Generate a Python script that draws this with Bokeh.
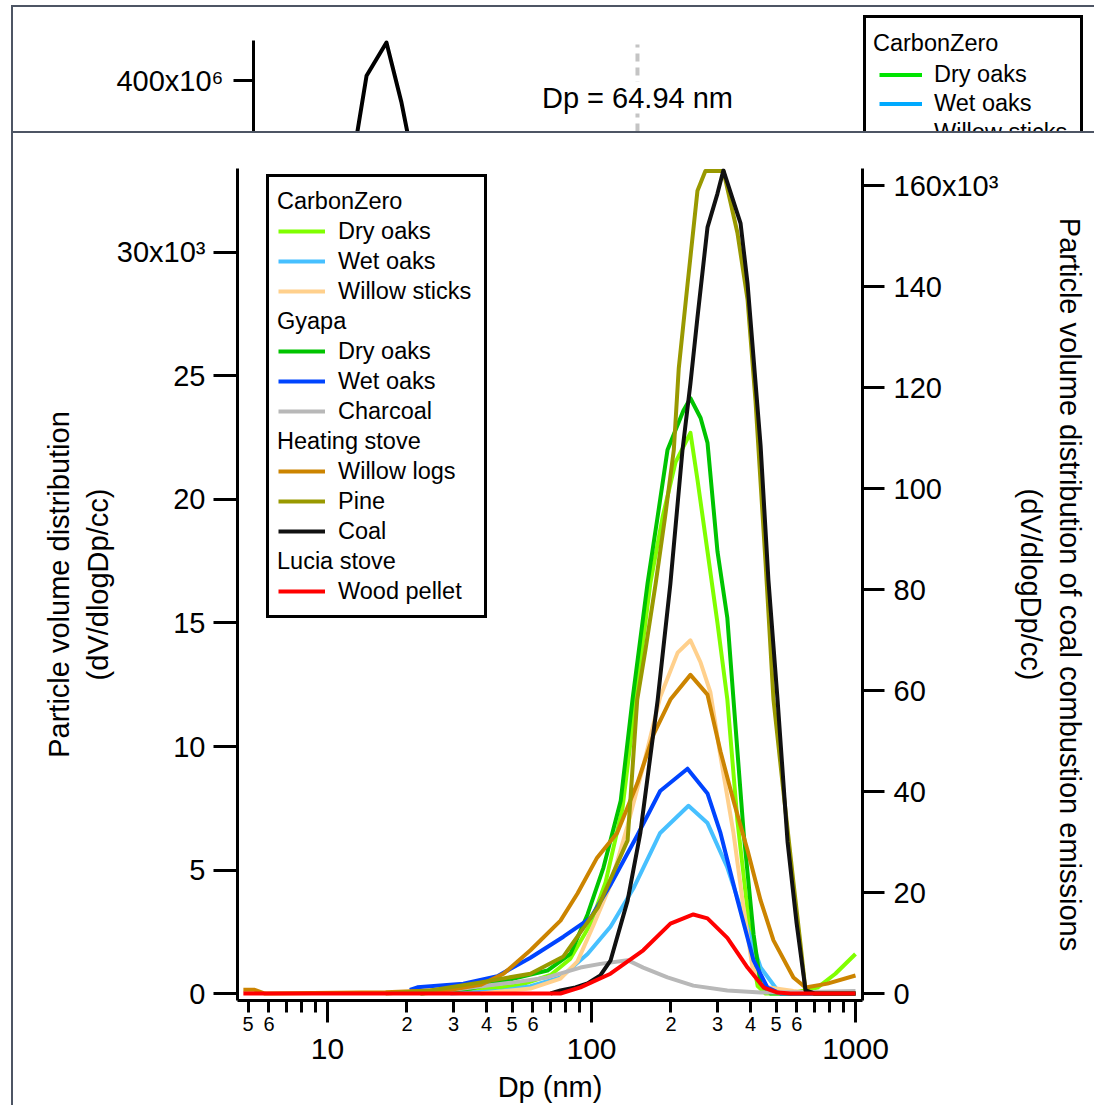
import math
from bokeh.plotting import figure
from bokeh.models import (Range1d, LinearAxis, LogAxis, FixedTicker, Legend,
                          LegendItem, Label)
from bokeh.embed import file_html
from bokeh.resources import INLINE

FONT = "Liberation Sans"

# ---------------- main chart data: Dp (nm) vs dV/dlogDp (/cc) ----------------
cz_dry_oaks_dp = [22.5, 38, 53.8, 70, 83, 99, 113, 131, 147, 167, 186, 208, 237, 252, 275,
                  300, 327, 357, 384, 407, 426, 456, 567, 718, 839, 1000]
cz_dry_oaks_dv = [0, 150, 350, 750, 1400, 2800, 4500, 7500, 11900, 16600, 19300, 21500, 22700,
                  20800, 17900, 15000, 11900, 7000, 4000, 1500, 300, 0, 0, 240, 800, 1600]

cz_wet_oaks_dp = [29.2, 45.2, 58.7, 76.3, 96.6, 118, 144, 182, 233, 275, 327, 377, 437, 507, 567, 1000]
cz_wet_oaks_dv = [0, 100, 300, 650, 1600, 2700, 4250, 6500, 7600, 6900, 5100, 3100, 1060, 120, 0, 0]

cz_willow_sticks_dp = [38, 58.7, 76.3, 88.5, 102, 118, 137, 157, 182, 212, 237, 259, 282, 308,
                       345, 373, 407, 464, 582, 700, 1000]
cz_willow_sticks_dv = [0, 200, 600, 1300, 2800, 4400, 6800, 9200, 12000, 13800, 14300, 13400,
                       12200, 9600, 6500, 3800, 1050, 250, 100, 0, 0]

gy_dry_oaks_dp = [22.5, 34.8, 44, 68.1, 83.2, 96.6, 111, 129, 143, 163, 178, 194, 223, 237, 259,
                  275, 300, 327, 345, 377, 411, 437, 477, 1000]
gy_dry_oaks_dv = [0, 200, 450, 930, 1600, 3200, 5100, 7800, 11900, 16600, 19300, 22000, 23600,
                  24100, 23300, 22300, 17900, 15200, 11900, 6500, 2400, 400, 0, 0]

gy_wet_oaks_dp = [20.5, 21.9, 32.7, 44, 58.7, 78.3, 99, 118, 149, 182, 231, 275, 308, 357, 411,
                  464, 520, 1000]
gy_wet_oaks_dv = [150, 250, 400, 700, 1450, 2300, 3050, 4400, 6400, 8200, 9100, 8100, 6500, 3800,
                  1340, 240, 0, 0]

gy_charcoal_dp = [22.5, 32.7, 50.7, 68, 90.8, 108, 137, 157, 194, 243, 327, 437, 600, 1000]
gy_charcoal_dv = [0, 200, 450, 650, 1050, 1200, 1350, 1050, 650, 320, 120, 40, 50, 100]

hs_willow_logs_dp = [4.8, 5.3, 5.8, 16.6, 29.2, 38, 46.4, 58.7, 76.3, 88.5, 105, 125, 149, 172,
                     199, 237, 275, 308, 345, 390, 437, 489, 582, 647, 783, 1000]
hs_willow_logs_dv = [150, 150, 0, 50, 150, 350, 800, 1750, 2950, 4050, 5500, 6500, 8500, 10500,
                     11900, 12900, 12100, 9800, 7800, 5800, 3770, 2150, 650, 240, 400, 730]

hs_pine_dp = [16.6, 24.5, 38, 58.7, 78.3, 106, 137, 149, 160, 175, 190, 205, 214, 231, 252, 270,
              316, 357, 390, 418, 456, 489, 533, 582, 619, 647, 700, 1000]
hs_pine_dv = [0, 120, 450, 800, 1500, 3500, 6200, 11900, 13900, 16600, 19300, 22000, 25300, 28700,
              32500, 33300, 33300, 30800, 28100, 24000, 17500, 11900, 8200, 4500, 2000, 100, 0, 0]

# coal is read on the right-hand axis
hs_coal_dp = [70, 76.3, 87, 96.6, 108, 118, 137, 153, 178, 199, 221, 237, 252, 275, 300, 316,
              367, 390, 437, 468, 507, 553, 598, 647, 700, 1000]
hs_coal_dv = [0, 600, 1200, 2000, 3600, 6500, 18400, 31700, 58000, 81200, 107500, 120800, 133900,
              151700, 158400, 163000, 152500, 140600, 108500, 81800, 58000, 30000, 14000, 600, 0, 0]

lu_wood_pellet_dp = [4.8, 76.3, 90.8, 118, 157, 199, 243, 275, 327, 390, 449, 507, 567, 1000]
lu_wood_pellet_dv = [0, 0, 250, 800, 1750, 2830, 3200, 3040, 2250, 1050, 240, 40, 0, 0]

left_ticks = [0, 5000, 10000, 15000, 20000, 25000, 30000]
left_tick_labels = ["0", "5", "10", "15", "20", "25", "30x10\u00b3"]
right_ticks = [0, 20000, 40000, 60000, 80000, 100000, 120000, 140000, 160000]
right_tick_labels = ["0", "20", "40", "60", "80", "100", "120", "140", "160x10\u00b3"]
x_minor_ticks = [5, 6, 7, 8, 9, 20, 30, 40, 50, 60, 70, 80, 90,
                 200, 300, 400, 500, 600, 700, 800, 900]
x_minor_labels = ["5", "6", "", "", "", "2", "3", "4", "5", "6", "", "", "",
                  "2", "3", "4", "5", "6", "", "", ""]
x_major_ticks = [10, 100, 1000]
x_major_labels = ["10", "100", "1000"]

# ---------------- background (partly hidden) window data ----------------
bg_dp = [7.3, 8.12, 9.46, 10.6, 11.6]
bg_dn = [200e6, 412e6, 495e6, 347e6, 200e6]
bg_hidden_dn = [0, 0, 0, 0, 0]          # other series of that window lie below the visible strip
bg_marker_dp = 64.94
bg_marker_top = 490e6
bg_ticks = [400e6]
bg_tick_labels = ["400x10\u2076"]

# ---------------- geometry ----------------
W = 1094
TOP_H = 131
MAIN_H = 1105 - TOP_H
M_LEFT, M_RIGHT, M_TOP, M_BOTTOM = 237, 862, 37, 869   # main frame in its canvas
X0, X1 = 4.56, 1063
Y0, Y1 = -283, 33400
R0, R1 = -1386, 163370
T_LEFT, T_RIGHT, T_TOP, T_BOTTOM = 253, 1090, 8, 131     # top frame in its canvas
TX0, TX1 = 3.41, 2101
TY0, TY1 = 272.5e6, 580e6
TY_AXIS_END = 500e6

BORDER = "#4d5564"


def window_css(top_px):
    g = f"linear-gradient({BORDER},{BORDER})"
    return {"vertical-align": "top",
            "background": f"{g} 11px {top_px}px / 100% 2px no-repeat, "
                          f"{g} 11px {top_px}px / 2px 100% no-repeat, #ffffff"}


def style_axis(ax, tick_size="29px"):
    ax.axis_line_color = "black"
    ax.axis_line_width = 3
    ax.major_tick_line_color = "black"
    ax.major_tick_line_width = 3
    ax.minor_tick_line_color = None
    ax.major_tick_in = 0
    ax.major_label_text_font = FONT
    ax.major_label_text_font_size = tick_size
    ax.major_label_text_color = "black"
    ax.axis_label_text_font = FONT
    ax.axis_label_text_font_size = "29px"
    ax.axis_label_text_font_style = "normal"
    ax.axis_label_text_color = "black"


def bare_axis(ax):
    ax.axis_line_color = None
    ax.major_tick_line_color = None
    ax.minor_tick_line_color = None
    ax.major_tick_in = 0
    ax.major_tick_out = 0


def make_legend(items, left, top, pad, row_h, glyph_w, label_w, standoff,
                frame_left, frame_bottom, boxed=True):
    h = 2 * pad + row_h * len(items) + 5
    return Legend(items=items, location=(left - frame_left, frame_bottom - (top + h)),
                  border_line_color="black", border_line_width=3,
                  border_line_alpha=1.0 if boxed else 0.0,
                  background_fill_color="white", background_fill_alpha=1.0 if boxed else 0.0,
                  padding=pad, spacing=0, margin=0,
                  glyph_width=glyph_w, glyph_height=row_h, label_height=row_h,
                  label_width=label_w, label_standoff=standoff, label_text_font=FONT,
                  label_text_font_size="23.5px", label_text_color="black")


# ================= main figure =================
p = figure(width=W, height=MAIN_H, x_axis_type="log",
           x_range=Range1d(X0, X1), y_range=Range1d(Y0, Y1),
           output_backend="svg", toolbar_location=None,
           min_border_left=M_LEFT, min_border_right=W - M_RIGHT,
           min_border_top=M_TOP, min_border_bottom=MAIN_H - M_BOTTOM,
           background_fill_color="white", border_fill_color=None,
           outline_line_color=None, styles=window_css(0))
p.grid.grid_line_color = None
p.extra_y_ranges = {"coal": Range1d(R0, R1)}

# x axis, tier 1: axis line, long decade ticks, short minor ticks
ax_t = p.xaxis[0]
style_axis(ax_t, "1px")
ax_t.ticker = FixedTicker(ticks=x_major_ticks, minor_ticks=x_minor_ticks)
ax_t.major_tick_out = 22
ax_t.minor_tick_out = 12
ax_t.minor_tick_in = 0
ax_t.minor_tick_line_color = "black"
ax_t.minor_tick_line_width = 3
ax_t.major_label_text_color = None
ax_t.major_label_standoff = 0

# tier 2: small digits under the minor ticks
ax_m = LogAxis(ticker=FixedTicker(ticks=x_minor_ticks),
               major_label_overrides=dict(zip(x_minor_ticks, x_minor_labels)))
style_axis(ax_m, "20px")
bare_axis(ax_m)
ax_m.major_label_standoff = -6
p.add_layout(ax_m, "below")

# tier 3: decade labels and axis title
ax_d = LogAxis(ticker=FixedTicker(ticks=x_major_ticks),
               major_label_overrides=dict(zip(x_major_ticks, x_major_labels)),
               axis_label="Dp (nm)")
style_axis(ax_d, "30px")
bare_axis(ax_d)
ax_d.major_label_standoff = 5
ax_d.axis_label_standoff = 9
p.add_layout(ax_d, "below")

ax_l = p.yaxis[0]
style_axis(ax_l)
ax_l.ticker = FixedTicker(ticks=left_ticks)
ax_l.major_label_overrides = dict(zip(left_ticks, left_tick_labels))
ax_l.major_tick_out = 24
ax_l.major_label_standoff = 8
ax_l.axis_label = "Particle volume distribution\n(dV/dlogDp/cc)"
ax_l.axis_label_standoff = 0

ax_r = LinearAxis(y_range_name="coal", ticker=FixedTicker(ticks=right_ticks),
                  major_label_overrides=dict(zip(right_ticks, right_tick_labels)),
                  axis_label="Particle volume distribution of coal combustion emissions\n(dV/dlogDp/cc)")
style_axis(ax_r)
ax_r.major_tick_out = 22
ax_r.major_label_standoff = 9
ax_r.axis_label_standoff = 14
p.add_layout(ax_r, "right")

groups = [
    ("CarbonZero", [("Dry oaks", cz_dry_oaks_dp, cz_dry_oaks_dv, "#80ff00", "default"),
                    ("Wet oaks", cz_wet_oaks_dp, cz_wet_oaks_dv, "#47c0ff", "default"),
                    ("Willow sticks", cz_willow_sticks_dp, cz_willow_sticks_dv, "#ffd08c", "default")]),
    ("Gyapa", [("Dry oaks", gy_dry_oaks_dp, gy_dry_oaks_dv, "#00c400", "default"),
               ("Wet oaks", gy_wet_oaks_dp, gy_wet_oaks_dv, "#0044ff", "default"),
               ("Charcoal", gy_charcoal_dp, gy_charcoal_dv, "#b8b8b8", "default")]),
    ("Heating stove", [("Willow logs", hs_willow_logs_dp, hs_willow_logs_dv, "#cc8400", "default"),
                       ("Pine", hs_pine_dp, hs_pine_dv, "#999900", "default"),
                       ("Coal", hs_coal_dp, hs_coal_dv, "#111111", "coal")]),
    ("Lucia stove", [("Wood pellet", lu_wood_pellet_dp, lu_wood_pellet_dv, "#ff0000", "default")]),
]

items, header_items = [], []
for gname, members in groups:
    items.append(LegendItem(label="", renderers=[]))
    header_items.append(LegendItem(label=gname, renderers=[]))
    for name, xs, ys, color, rng in members:
        r = p.line(xs, ys, line_color=color, line_width=4, line_join="round", y_range_name=rng)
        items.append(LegendItem(label=name, renderers=[r]))
        header_items.append(LegendItem(label="", renderers=[]))

LEG_LEFT, LEG_TOP, LEG_PAD, ROW_H = 266, 175 - TOP_H, 9, 30
p.add_layout(make_legend(items, LEG_LEFT, LEG_TOP, LEG_PAD, ROW_H, 47, 137, 13, M_LEFT, M_BOTTOM))
p.add_layout(make_legend(header_items, LEG_LEFT, LEG_TOP - 3, LEG_PAD, ROW_H, 2, 137, 0,
                         M_LEFT, M_BOTTOM, boxed=False))

# ================= background window (cropped) =================
pt = figure(width=W, height=TOP_H, x_axis_type="log",
            x_range=Range1d(TX0, TX1), y_range=Range1d(TY0, TY1),
            x_axis_location=None, output_backend="svg", toolbar_location=None,
            min_border_left=T_LEFT, min_border_right=W - T_RIGHT,
            min_border_top=T_TOP, min_border_bottom=TOP_H - T_BOTTOM,
            background_fill_color=None, border_fill_color=None,
            outline_line_color=None, styles=window_css(5))
pt.grid.grid_line_color = None
ay = pt.yaxis[0]
style_axis(ay)
ay.ticker = FixedTicker(ticks=bg_ticks)
ay.major_label_overrides = dict(zip(bg_ticks, bg_tick_labels))
ay.major_tick_out = 20
ay.major_label_standoff = 10
ay.bounds = (TY0, TY_AXIS_END)

pt.line(bg_dp, bg_dn, line_color="black", line_width=4, line_join="round")
pt.segment(x0=[bg_marker_dp], y0=[TY0], x1=[bg_marker_dp], y1=[bg_marker_top],
           line_color="#c4c4c4", line_width=4, line_dash="8 6")
ly = TY0 + (T_BOTTOM - 97) / (T_BOTTOM - T_TOP) * (TY1 - TY0)
pt.add_layout(Label(x=bg_marker_dp, y=ly, text=f"Dp = {bg_marker_dp} nm", text_font=FONT,
                    text_font_size="29px", text_align="center", text_baseline="middle",
                    text_color="black", background_fill_color="white"))

t_items = [LegendItem(label="", renderers=[])]
t_headers = [LegendItem(label="CarbonZero", renderers=[])]
for name, color in [("Dry oaks", "#00e400"), ("Wet oaks", "#00aaff"), ("Willow sticks", "#ffdcaa")]:
    r = pt.line(bg_dp, bg_hidden_dn, line_color=color, line_width=4)
    t_items.append(LegendItem(label=name, renderers=[r]))
    t_headers.append(LegendItem(label="", renderers=[]))
TL_LEFT, TL_TOP, TL_PAD, TROW = 863, 18, 13, 29
pt.add_layout(make_legend(t_items, TL_LEFT, TL_TOP - 2, TL_PAD, TROW, 43, 133, 12, T_LEFT, T_BOTTOM))
pt.add_layout(make_legend(t_headers, TL_LEFT - 3, TL_TOP - 7, TL_PAD, TROW, 0, 133, 0,
                          T_LEFT, T_BOTTOM, boxed=False))

open("out.html", "w").write(file_html([pt, p], INLINE, title="Particle volume distribution"))
